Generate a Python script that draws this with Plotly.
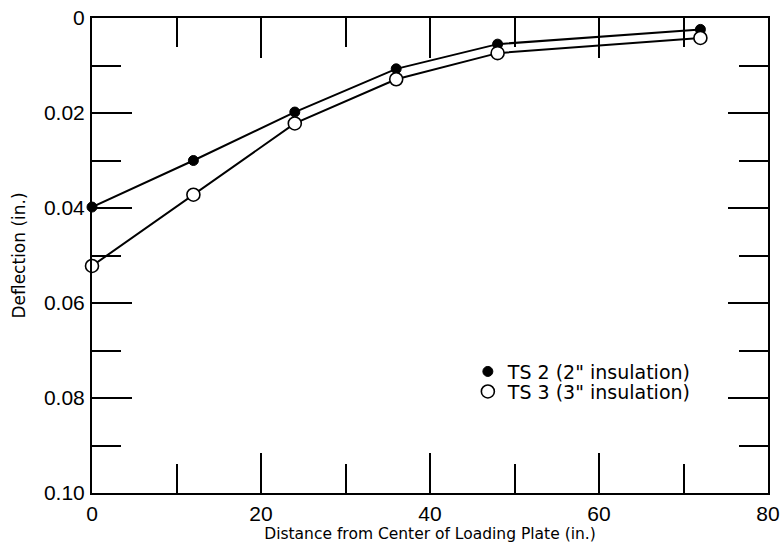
import plotly.graph_objects as go

distance = [0, 12, 24, 36, 48, 72]
ts2_deflection = [0.0398, 0.0300, 0.0198, 0.0107, 0.0055, 0.0024]
ts3_deflection = [0.0522, 0.0372, 0.0222, 0.0129, 0.0074, 0.0042]
series_names = ['TS 2 (2" insulation)', 'TS 3 (3" insulation)']

x_tickvals = [0, 20, 40, 60, 80]
x_ticktext = ["0", "20", "40", "60", "80"]
y_tickvals = [0, 0.02, 0.04, 0.06, 0.08, 0.10]
y_ticktext = ["0", "0.02", "0.04", "0.06", "0.08", "0.10"]

SANS = "Liberation Sans, Arial, sans-serif"
WIDE = "DejaVu Sans, sans-serif"

fig = go.Figure()
# connecting lines
for ys in (ts2_deflection, ts3_deflection):
    fig.add_trace(go.Scatter(x=distance, y=ys, mode="lines",
                             line=dict(color="black", width=2),
                             showlegend=False, hoverinfo="skip", cliponaxis=False))
# markers
fig.add_trace(go.Scatter(x=distance, y=ts2_deflection, mode="markers", name=series_names[0],
                         marker=dict(symbol="circle", size=10, color="black",
                                     line=dict(color="black", width=1)),
                         cliponaxis=False, legend="legend"))
fig.add_trace(go.Scatter(x=distance, y=ts3_deflection, mode="markers", name=series_names[1],
                         marker=dict(symbol="circle", size=13, color="white",
                                     line=dict(color="black", width=1.6)),
                         cliponaxis=False, legend="legend2"))

axis_common = dict(showgrid=False, zeroline=False, showline=True, linecolor="black",
                   linewidth=2, mirror="ticks", ticks="inside", tickcolor="black",
                   tickwidth=2, ticklen=40, automargin=False,
                   tickfont=dict(family=SANS, size=21, color="black"))

fig.update_xaxes(range=[0, 80], tickmode="array", tickvals=x_tickvals, ticktext=x_ticktext,
                 minor=dict(ticks="inside", dtick=10, tick0=0, ticklen=29, tickwidth=2,
                            tickcolor="black", showgrid=False),
                 title=dict(text="Distance from Center of Loading Plate (in.)",
                            font=dict(family=WIDE, size=15.5, color="black"), standoff=4),
                 ticklabelstandoff=1,
                 **axis_common)
fig.update_yaxes(range=[0.10, 0], tickmode="array", tickvals=y_tickvals, ticktext=y_ticktext,
                 minor=dict(ticks="inside", dtick=0.01, tick0=0, ticklen=29, tickwidth=2,
                            tickcolor="black", showgrid=False),
                 title=dict(text="Deflection (in.)",
                            font=dict(family=WIDE, size=17, color="black"), standoff=14),
                 ticklabelstandoff=1,
                 **axis_common)

legend_common = dict(xanchor="left", yanchor="middle", bgcolor="rgba(0,0,0,0)", borderwidth=0,
                     font=dict(family=WIDE, size=19, color="black"), itemwidth=30)

fig.update_layout(
    width=781, height=556,
    margin=dict(l=92, r=13, t=18, b=63),
    plot_bgcolor="white", paper_bgcolor="white",
    font=dict(family=SANS, size=15, color="black"),
    legend=dict(x=0.556, y=0.2556, **legend_common),
    legend2=dict(x=0.556, y=0.2135, **legend_common),
    showlegend=True,
)

fig.write_html("out.html", config={"displayModeBar": False},
               post_script="document.body.style.margin='0px';")
